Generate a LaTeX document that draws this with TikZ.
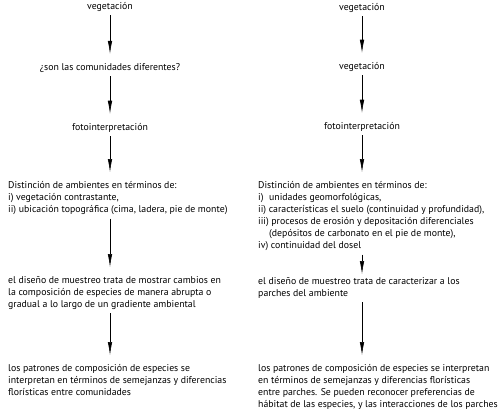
\documentclass[tikz,border=0pt]{standalone}
\usepackage{fontspec}
\setmainfont{PT Sans}
\usetikzlibrary{arrows.meta}
\begin{document}
\begin{tikzpicture}[x=1pt,y=-1pt,
  lbl/.style={inner sep=0pt, font=\fontsize{9.8}{12}\selectfont},
  blk/.style={lbl, align=left, anchor=north west},
  arr/.style={line width=0.6pt, -{Latex[length=13pt,width=4.5pt]}, shorten <=4pt, shorten >=9pt}]
\useasboundingbox (0,0) rectangle (500,410);
% left column
\node[lbl, anchor=base] (v1) at (110,9) {vegetación};
\node[lbl, anchor=base] (q1) at (110,70) {¿son las comunidades diferentes?};
\node[lbl, anchor=base] (f1) at (110,130) {fotointerpretación};
\node[blk] (b1) at (8,181) {Distinción de ambientes en términos de:\\
i) vegetación contrastante,\\
ii) ubicación topográfica (cima, ladera, pie de monte)};
\node[blk] (d1) at (8,276) {el diseño de muestreo trata de mostrar cambios en\\
la composición de especies de manera abrupta o\\
gradual a lo largo de un gradiente ambiental};
\node[blk] (p1) at (8,364) {los patrones de composición de especies se\\
interpretan en términos de semejanzas y diferencias\\
florísticas entre comunidades};
% right column
\node[lbl, anchor=base] (v2) at (362,10) {vegetación};
\node[lbl, anchor=base] (v3) at (362,69) {vegetación};
\node[lbl, anchor=base] (f2) at (362,129) {fotointerpretación};
\node[blk] (b2) at (258,181) {Distinción de ambientes en términos de:\\
\makebox[11pt][l]{i)}unidades geomorfológicas,\\
ii) características el suelo (continuidad y profundidad),\\
iii) procesos de erosión y depositación diferenciales\\
\hspace*{11pt}(depósitos de carbonato en el pie de monte),\\
iv) continuidad del dosel};
\node[blk] (d2) at (258,277) {el diseño de muestreo trata de caracterizar a los\\
parches del ambiente};
\node[blk] (p2) at (258,364) {los patrones de composición de especies se interpretan\\
en términos de semejanzas y diferencias florísticas\\
entre parches. Se pueden reconocer preferencias de\\
hábitat de las especies, y las interacciones de los parches};
% arrows left
\draw[arr] (v1.south) -- (v1.south |- q1.north);
\draw[arr] (q1.south) -- (q1.south |- f1.north);
\draw[arr] (f1.south) -- (f1.south |- b1.north);
\draw[arr] (b1.south -| f1.south) -- (d1.north -| f1.south);
\draw[arr] (d1.south -| f1.south) -- (p1.north -| f1.south);
% arrows right
\draw[arr] (v2.south) -- (v2.south |- v3.north);
\draw[arr] (v3.south) -- (v3.south |- f2.north);
\draw[arr] (f2.south) -- (f2.south |- b2.north);
\draw[arr, shorten >=3pt] (b2.south -| f2.south) -- (d2.north -| f2.south);
\draw[arr] (d2.south -| f2.south) -- (p2.north -| f2.south);
\end{tikzpicture}
\end{document}
